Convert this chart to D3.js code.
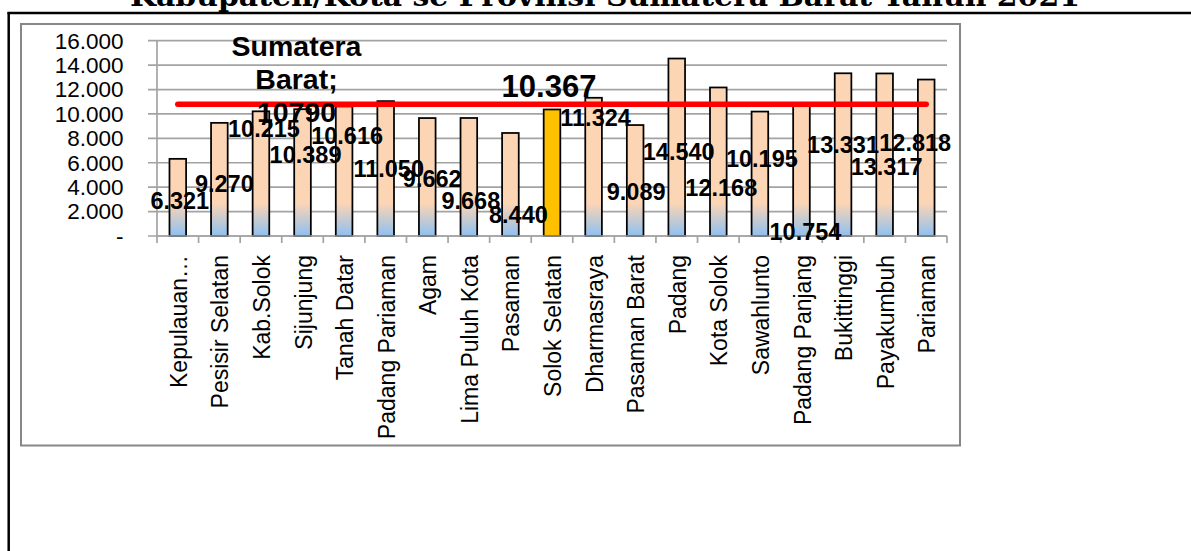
<!DOCTYPE html>
<html>
<head>
<meta charset="utf-8">
<script src="https://cdn.jsdelivr.net/npm/d3@7"></script>
<style>
  body { margin: 0; background: #fff; }
  svg { display: block; }
</style>
</head>
<body>
<svg id="chart" width="1191" height="551"></svg>
<script>
// Regency / city values, Sumatera Barat 2021
const categories = [
  "Kepulauan…", "Pesisir Selatan", "Kab.Solok", "Sijunjung", "Tanah Datar",
  "Padang Pariaman", "Agam", "Lima Puluh Kota", "Pasaman", "Solok Selatan",
  "Dharmasraya", "Pasaman Barat", "Padang", "Kota Solok", "Sawahlunto",
  "Padang Panjang", "Bukittinggi", "Payakumbuh", "Pariaman"
];
const values = [
  6321, 9270, 10215, 10389, 10616,
  11050, 9662, 9668, 8440, 10367,
  11324, 9089, 14540, 12168, 10195,
  10754, 13331, 13317, 12818
];
const provinceName = "Sumatera Barat";
const provinceValue = 10790;
const highlighted = "Solok Selatan";
const titleText = "Kabupaten/Kota se Provinsi Sumatera Barat Tahun 2021";
const yTicks = [0, 2000, 4000, 6000, 8000, 10000, 12000, 14000, 16000];
const yTickLabels = ["-", "2.000", "4.000", "6.000", "8.000", "10.000", "12.000", "14.000", "16.000"];

// Where each value label sits (in axis units) and its sideways nudge in px
const labelLevels = [2190, 3630, 8140, 5960, 7540, 4810, 4040, 2190, 1040, null,
                     9020, 2950, 6230, 3280, 5680, -330, 6780, 5000, 6970];
const labelNudge = [2, 5, 3, 3, 3, 3, 5, 2, 8, 0, 2, 1, 2, 3, 2, 4, 0, 2, -11];

const fmt = d3.formatLocale({ decimal: ",", thousands: ".", grouping: [3], currency: ["Rp", ""] }).format(",");

const svg = d3.select("#chart");
const sans = "'Liberation Sans', Arial, sans-serif";

// page frame: heading cut at the top, table borders
svg.append("text")
  .attr("x", 130).attr("y", 6)
  .attr("textLength", 950).attr("lengthAdjust", "spacingAndGlyphs")
  .attr("font-family", "'DejaVu Serif', serif")
  .attr("font-weight", "bold").attr("font-size", 27)
  .text(titleText);
svg.append("line").attr("x1", 7.5).attr("x2", 1191).attr("y1", 13).attr("y2", 13)
  .attr("stroke", "#000").attr("stroke-width", 2.5);
svg.append("line").attr("x1", 8.7).attr("x2", 8.7).attr("y1", 12).attr("y2", 551)
  .attr("stroke", "#000").attr("stroke-width", 2.5);

// chart area border
svg.append("rect").attr("x", 21).attr("y", 24).attr("width", 939).attr("height", 421.5)
  .attr("fill", "#fff").attr("stroke", "#878787").attr("stroke-width", 2);

const plot = { left: 157, right: 947, top: 40.7, bottom: 236 };

const x = d3.scaleBand().domain(categories).range([plot.left, plot.right]).padding(0);
const y = d3.scaleLinear().domain([0, 16000]).range([plot.bottom, plot.top]);
const cx = d => x(d) + x.bandwidth() / 2;
const barW = x.bandwidth() * 0.4;

// bar gradient: peach body fading to blue at the base
const defs = svg.append("defs");
const grad = defs.append("linearGradient").attr("id", "barFill")
  .attr("gradientUnits", "userSpaceOnUse")
  .attr("x1", 0).attr("x2", 0).attr("y1", y(2700)).attr("y2", y(0));
grad.append("stop").attr("offset", 0).attr("stop-color", "#fcd5b5");
grad.append("stop").attr("offset", 1).attr("stop-color", "#8fc0f0");

// horizontal gridlines (extend left as tick marks)
svg.append("g").selectAll("line").data(yTicks).join("line")
  .attr("x1", plot.left - 9).attr("x2", plot.right)
  .attr("y1", d => y(d)).attr("y2", d => y(d))
  .attr("stroke", "#a3a3a3").attr("stroke-width", 1.7);

// value axis line
svg.append("line").attr("x1", plot.left).attr("x2", plot.left)
  .attr("y1", y(16000)).attr("y2", y(0))
  .attr("stroke", "#a3a3a3").attr("stroke-width", 1.7);

// value axis labels
svg.append("g").selectAll("text").data(yTicks).join("text")
  .attr("x", 123.5).attr("y", d => y(d)).attr("dy", "0.35em")
  .attr("text-anchor", "end")
  .attr("font-family", sans).attr("font-size", 22.5).attr("fill", "#000")
  .text((d, i) => yTickLabels[i]);

// category axis: ticks at band boundaries
const boundaries = categories.map(c => x(c)).concat([plot.right]);
svg.append("g").selectAll("line").data(boundaries).join("line")
  .attr("x1", d => d).attr("x2", d => d)
  .attr("y1", plot.bottom).attr("y2", plot.bottom + 7)
  .attr("stroke", "#a3a3a3").attr("stroke-width", 1.7);

// category labels, rotated
svg.append("g").selectAll("text").data(categories).join("text")
  .attr("transform", d => `translate(${cx(d) + 1},${plot.bottom + 19}) rotate(-90)`)
  .attr("dy", "0.35em")
  .attr("text-anchor", "end")
  .attr("font-family", sans).attr("font-size", 23).attr("fill", "#000")
  .text(d => d);

// bars
svg.append("g").selectAll("rect").data(categories).join("rect")
  .attr("x", d => cx(d) - barW / 2)
  .attr("width", barW)
  .attr("y", (d, i) => y(values[i]))
  .attr("height", (d, i) => y(0) - y(values[i]))
  .attr("fill", d => d === highlighted ? "#ffc000" : "url(#barFill)")
  .attr("stroke", "#000").attr("stroke-width", 1.75);

// x axis line on top of bar bases
svg.append("line").attr("x1", plot.left).attr("x2", plot.right)
  .attr("y1", plot.bottom).attr("y2", plot.bottom)
  .attr("stroke", "#a3a3a3").attr("stroke-width", 1.7);

// province reference line
svg.append("line")
  .attr("x1", cx(categories[0])).attr("x2", cx(categories[categories.length - 1]))
  .attr("y1", y(provinceValue)).attr("y2", y(provinceValue))
  .attr("stroke", "#ff0000").attr("stroke-width", 5.5).attr("stroke-linecap", "round");

// value labels
svg.append("g").selectAll("text").data(categories).join("text")
  .filter(d => d !== highlighted)
  .attr("x", d => cx(d) + labelNudge[categories.indexOf(d)])
  .attr("y", d => y(labelLevels[categories.indexOf(d)]))
  .attr("text-anchor", "middle")
  .attr("font-family", sans).attr("font-weight", "bold").attr("font-size", 23.5)
  .attr("fill", "#000")
  .text(d => fmt(values[categories.indexOf(d)]));

// highlighted value label above its bar
const hi = categories.indexOf(highlighted);
svg.append("text")
  .attr("x", cx(highlighted) - 3)
  .attr("y", y(values[hi]) - 12.5)
  .attr("text-anchor", "middle")
  .attr("font-family", sans).attr("font-weight", "bold").attr("font-size", 31)
  .attr("fill", "#000")
  .text(fmt(values[hi]));

// series label for the province line
const seriesLines = [provinceName.split(" ")[0], provinceName.split(" ")[1] + ";", String(provinceValue)];
const sl = svg.append("text")
  .attr("text-anchor", "middle")
  .attr("font-family", sans).attr("font-weight", "bold").attr("font-size", 28.5)
  .attr("fill", "#000");
seriesLines.forEach((t, i) => {
  sl.append("tspan")
    .attr("x", cx(categories[3]) - 6)
    .attr("y", y(provinceValue) - 48.5 + i * 33.3)
    .text(t);
});
</script>
</body>
</html>
